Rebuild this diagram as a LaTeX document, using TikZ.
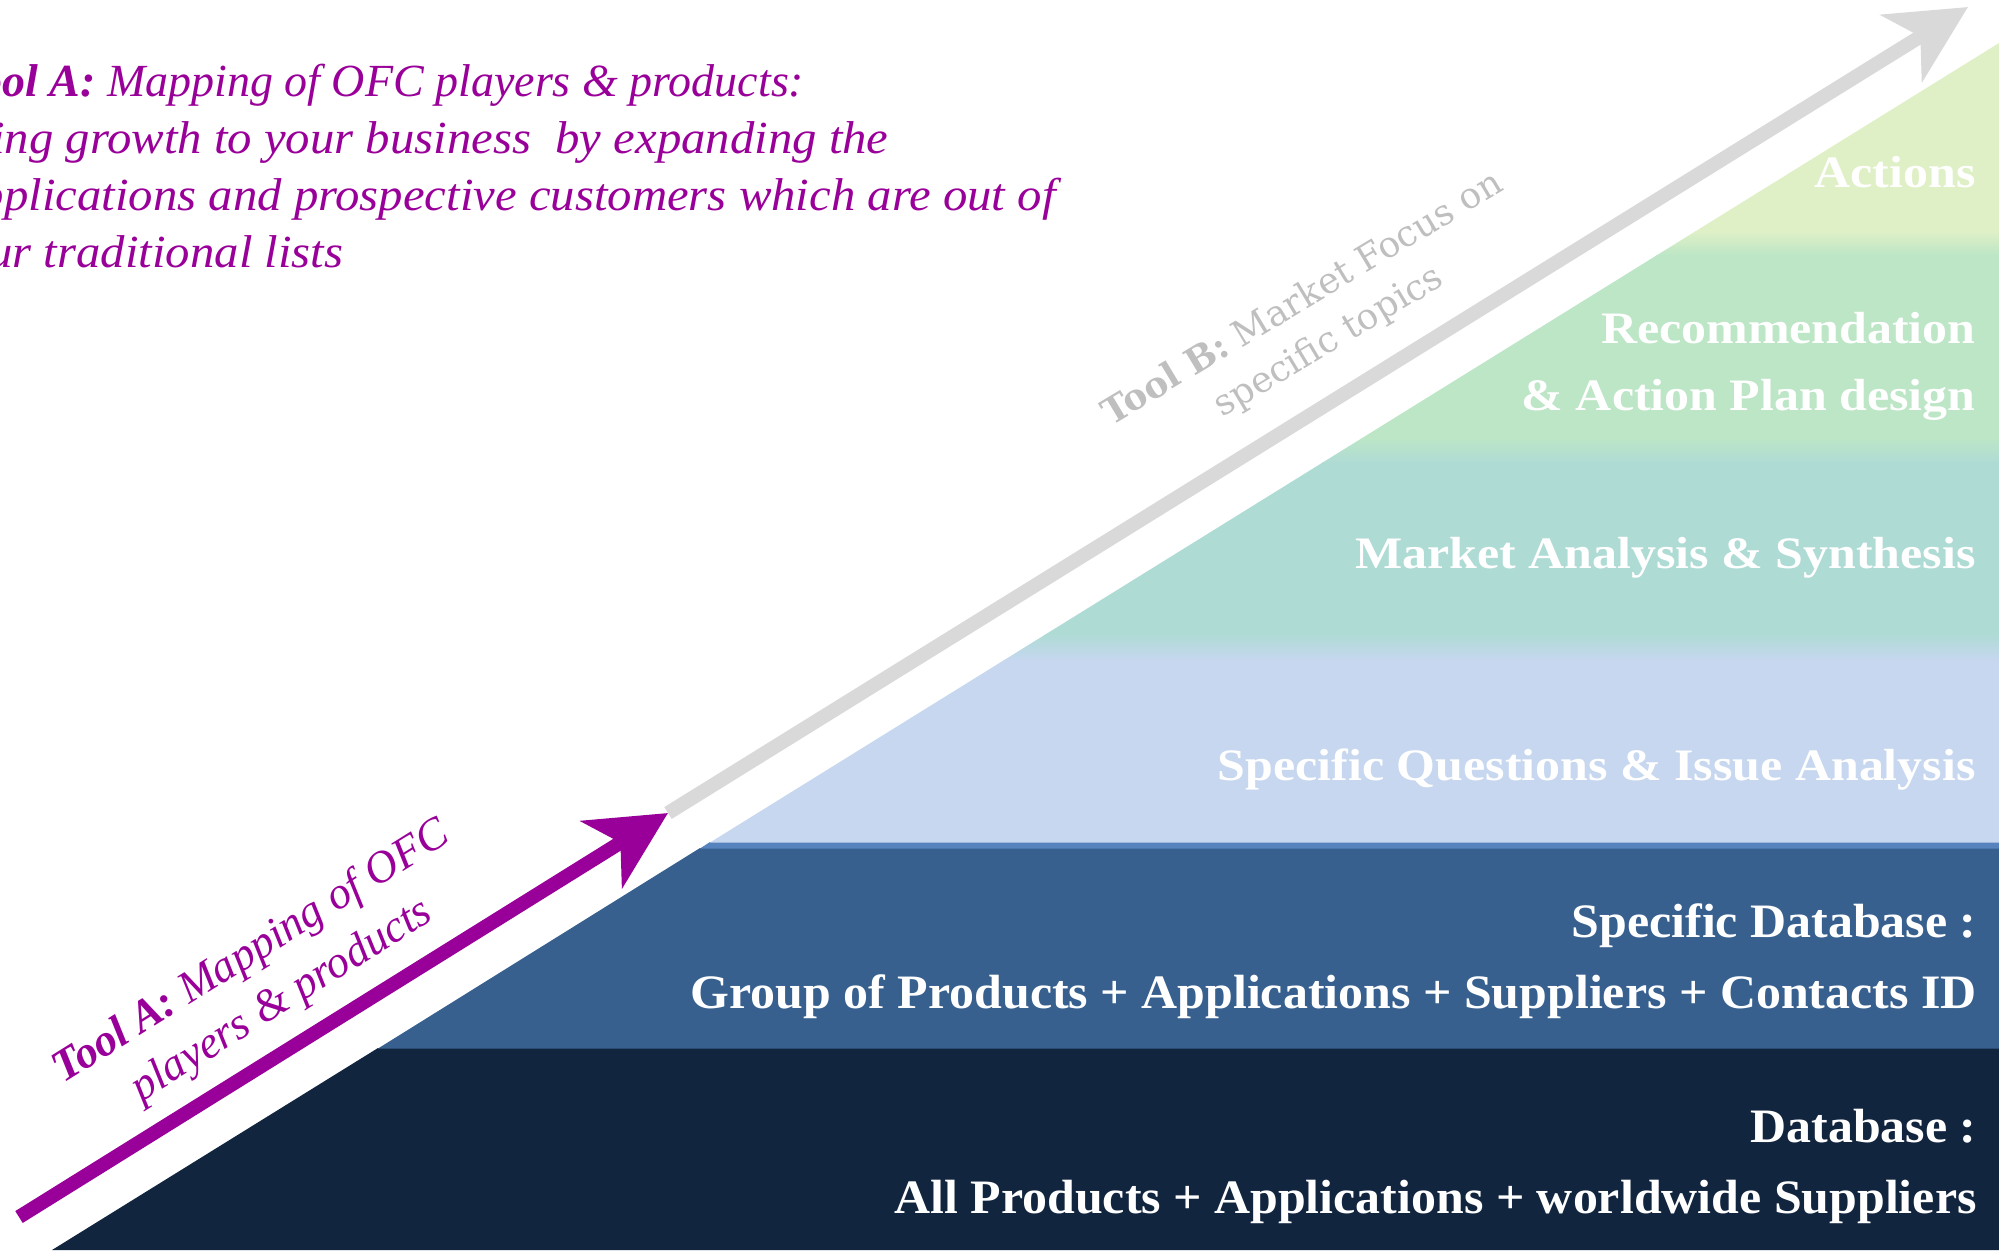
\documentclass[tikz,border=0pt]{standalone}
\usepackage{fontspec}
\setmainfont{Liberation Serif}
\newfontfamily\dvserif{DejaVu Serif}
\newfontfamily\dbfont[FakeStretch=1.04]{Liberation Serif}
\newfontfamily\patfont[FakeStretch=1.11]{Liberation Serif}
\newfontfamily\descwide[FakeStretch=1.06]{Liberation Serif}
\usetikzlibrary{arrows.meta}
\definecolor{navyband}{HTML}{12253F}
\definecolor{steelband}{HTML}{37608F}
\definecolor{steelline}{HTML}{5682BE}
\definecolor{pB}{HTML}{C6D7EF}
\definecolor{pT}{HTML}{AFDBD5}
\definecolor{pG}{HTML}{BCE6C6}
\definecolor{pYG}{HTML}{DFF0C6}
\definecolor{toolpurple}{HTML}{990099}
\definecolor{arrowgray}{HTML}{D9D9D9}
\definecolor{textgray}{HTML}{BFBFBF}
\tikzset{
  dbtext/.style={text=white, anchor=base east, inner sep=0pt, font=\dbfont\fontsize{24pt}{28pt}\selectfont\bfseries},
  pattext/.style={text=white, anchor=base east, inner sep=0pt, font=\patfont\fontsize{22.5pt}{27pt}\selectfont\bfseries},
  desctext/.style={text=toolpurple, anchor=base west, inner sep=0pt, font=\fontsize{23pt}{28.5pt}\selectfont\itshape},
  descwidetext/.style={desctext, font=\descwide\fontsize{23pt}{28.5pt}\selectfont\itshape},
  bigarrow/.style={line width=7pt, -{Stealth[length=39pt,width=39pt,inset=11pt]}},
}
\begin{document}
\begin{tikzpicture}[x=0.5pt,y=-0.5pt]
\useasboundingbox (0,0) rectangle (1999,1250);
% stacked bands
\fill[navyband] (52,1250) -- (378,1048) -- (1999,1048) -- (1999,1250) -- cycle;
\fill[steelband] (378,1048.5) -- (700,848) -- (1999,848) -- (1999,1048.5) -- cycle;
\fill[steelline] (700,848.5) -- (710,842) -- (1999,842) -- (1999,848.5) -- cycle;
\begin{scope}
\clip (710,842.5) -- (1999,43) -- (1999,842.5) -- cycle;
\fill[pB] (700,660) rectangle (1999,843);
\shade[top color=pT, bottom color=pB] (700,634) rectangle (1999,660.5);
\fill[pT] (700,462) rectangle (1999,634.5);
\shade[top color=pG, bottom color=pT] (700,438) rectangle (1999,462.5);
\fill[pG] (700,255) rectangle (1999,438.5);
\shade[top color=pYG, bottom color=pG] (700,231) rectangle (1999,255.5);
\fill[pYG] (700,30) rectangle (1999,231.5);
\end{scope}
% texts in the pattern
\node[pattext] (act) at (1976,187) {Actions};
\node[pattext] (rec) at (1976,343) {Recommendation};
\node[pattext] (plan) at (1976,410) {\& Action Plan design};
\node[pattext] (mkt) at (1976,568) {Market Analysis \& Synthesis};
\node[pattext] (spq) at (1976,780) {Specific Questions \& Issue Analysis};
% database texts
\node[dbtext] (sdb) at (1977,937) {Specific Database :};
\node[dbtext] (grp) at (1977,1008) {Group of Products + Applications + Suppliers + Contacts ID};
\node[dbtext] (db) at (1977,1142) {Database :};
\node[dbtext] (all) at (1977,1213) {All Products + Applications + worldwide Suppliers};
% arrows
\coordinate (a0) at (19,1217);
\coordinate (a1) at (668,813);
\coordinate (b1) at (1968,7);
\draw[bigarrow, arrowgray] (a1) -- (b1);
\draw[bigarrow, toolpurple] (a0) -- (a1);
% arrow labels
\node[text=toolpurple, rotate=32, align=center, inner sep=0pt,
      font=\fontsize{22.5pt}{28.5pt}\selectfont\itshape] (la) at (267,977)
      {\textbf{Tool A:} Mapping of OFC\\players \& products};
\node[text=textgray, rotate=31, align=center, inner sep=0pt,
      font=\dvserif\fontsize{18pt}{25pt}\selectfont] (lb) at (1316,321)
      {\textbf{Tool B:} Market Focus on\\specific topics};
% top-left description
\node[desctext] (d1) at (-45,96) {\textbf{Tool A:} Mapping of OFC players \& products:};
\node[descwidetext] (d2) at (-58,153) {Bring growth to your business\ \ by expanding the};
\node[descwidetext] (d3) at (-45,210) {applications and prospective customers which are out of};
\node[descwidetext] (d4) at (-58,267) {your traditional lists};
\end{tikzpicture}
\end{document}
